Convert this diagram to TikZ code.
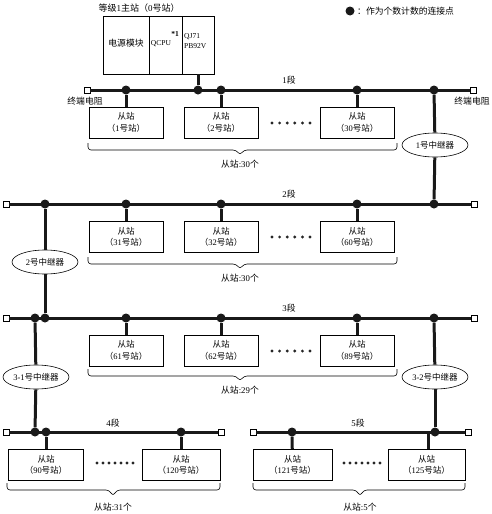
\documentclass[tikz,border=0pt]{standalone}
\usepackage{fontspec}
\setmainfont{Liberation Serif}
\newfontfamily\zhfont{Noto Sans CJK SC}
\newcommand\zh[1]{{\zhfont #1}}
\usetikzlibrary{shapes.geometric}
\begin{document}
\begin{tikzpicture}[x=1pt,y=-1pt,
  bus/.style={line width=3pt, draw=black!90},
  drop/.style={line width=3pt, draw=black!90},
  slave/.style={draw, line width=0.8pt, minimum width=74pt, minimum height=31pt, align=center, inner sep=0pt, font=\fontsize{8.5}{11.5}\selectfont},
  mpart/.style={draw, line width=0.8pt, minimum height=58pt, inner sep=0pt, font=\fontsize{8.5}{10}\selectfont},
  jdot/.style={circle, fill=black!90, inner sep=0pt, minimum size=9pt},
  term/.style={draw, fill=white, line width=0.6pt, minimum size=6pt, inner sep=0pt},
  relay/.style={ellipse, draw, fill=white, line width=0.6pt, minimum width=66pt, minimum height=24pt, inner sep=0pt, font=\fontsize{8.5}{10}\selectfont},
  lbl/.style={inner sep=0pt, font=\fontsize{8.8}{10}\selectfont},
  brc/.style={line width=0.6pt, rounded corners=3pt},
  sdot/.style={fill=black!85}
]
\useasboundingbox (0,0) rectangle (492,514);

% legend
\node[jdot] (legdot) at (350,11) {};
\node[lbl, anchor=west] (legtxt) at (357,11) {\zh{：作为个数计数的连接点}};

% master station
\node[lbl, font=\fontsize{9}{10}\selectfont] (mtitle) at (139,8) {\zh{等级}1\zh{主站（}0\zh{号站）}};
\node[mpart, minimum width=46pt] (m1) at (126,45) {};
\node[mpart, minimum width=33pt] (m2) at (165.5,45) {};
\node[mpart, minimum width=32pt] (m3) at (198,45) {};
\node[lbl, font=\fontsize{8.8}{10}\selectfont] (m1t) at (126,43) {\zh{电源模块}};
\node[lbl, font=\fontsize{7.5}{9}\selectfont] (m2t) at (161,44) {QCPU};
\node[lbl, font=\fontsize{7.5}{9}\selectfont\bfseries] (m2s) at (175,34) {*1};
\node[lbl, anchor=north west, align=left, font=\fontsize{7.5}{10}\selectfont] (m3t) at (184,33) {QJ71\\PB92V};

% ---------- bus 1 ----------
\node[term] (t1l) at (87,90) {};
\node[term] (t1r) at (473,90) {};
\draw[bus] (t1l) -- (t1r);
\node[jdot] (d1a) at (126,90) {};
\node[jdot] (d1m) at (198,90) {};
\node[jdot] (d1b) at (221,90) {};
\node[jdot] (d1c) at (357,90) {};
\node[jdot] (d1e) at (434,90) {};
\draw[drop] (m3) -- (d1m);
\node[lbl] (tr1l) at (85,101) {\zh{终端电阻}};
\node[lbl] (tr1r) at (472,101) {\zh{终端电阻}};
\node[lbl] (seg1) at (289,80) {1\zh{段}};
\node[slave] (s1) at (126,122.5) {\zh{从站}\\\zh{（}1\zh{号站）}};
\node[slave] (s2) at (221,122.5) {\zh{从站}\\\zh{（}2\zh{号站）}};
\node[slave] (s30) at (357,122.5) {\zh{从站}\\\zh{（}30\zh{号站）}};
\draw[drop] (d1a) -- (s1);
\draw[drop] (d1b) -- (s2);
\draw[drop] (d1c) -- (s30);
\foreach \i in {0,...,5} \fill[sdot] (272+7.6*\i,123) circle (1.6);
\draw[brc] (88,143) -- (88,150) -- (236,150) -- (240,155) -- (244,150) -- (397,150) -- (397,143);
\node[lbl] (n1) at (240,164) {\zh{从站}:30\zh{个}};

% relay 1
\node[relay] (r1) at (435,145) {1\zh{号中继器}};

% ---------- bus 2 ----------
\node[term] (t2l) at (6,204) {};
\node[term] (t2r) at (474,204) {};
\draw[bus] (t2l) -- (t2r);
\node[jdot] (d2r) at (45,204) {};
\node[jdot] (d2a) at (126,204) {};
\node[jdot] (d2b) at (221,204) {};
\node[jdot] (d2c) at (357,204) {};
\node[jdot] (d2e) at (434,204) {};
\draw[drop] (d1e) -- (r1);
\draw[drop] (r1) -- (d2e);
\node[lbl] (seg2) at (289,194) {2\zh{段}};
\node[slave] (s31) at (126,237) {\zh{从站}\\\zh{（}31\zh{号站）}};
\node[slave] (s32) at (221,237) {\zh{从站}\\\zh{（}32\zh{号站）}};
\node[slave] (s60) at (357,237) {\zh{从站}\\\zh{（}60\zh{号站）}};
\draw[drop] (d2a) -- (s31);
\draw[drop] (d2b) -- (s32);
\draw[drop] (d2c) -- (s60);
\foreach \i in {0,...,5} \fill[sdot] (272+7.6*\i,237) circle (1.6);
\draw[brc] (88,257) -- (88,264) -- (236,264) -- (240,269) -- (244,264) -- (397,264) -- (397,257);
\node[lbl] (n2) at (240,278) {\zh{从站}:30\zh{个}};

% relay 2
\node[relay] (r2) at (45,262) {2\zh{号中继器}};

% ---------- bus 3 ----------
\node[term] (t3l) at (6,318) {};
\node[term] (t3r) at (474,318) {};
\draw[bus] (t3l) -- (t3r);
\node[jdot] (d3p) at (35,318) {};
\node[jdot] (d3r) at (45,318) {};
\node[jdot] (d3a) at (126,318) {};
\node[jdot] (d3b) at (221,318) {};
\node[jdot] (d3c) at (357,318) {};
\node[jdot] (d3e) at (434,318) {};
\draw[drop] (d2r) -- (r2);
\draw[drop] (r2) -- (d3r);
\node[lbl] (seg3) at (289,308) {3\zh{段}};
\node[slave] (s61) at (126,350.5) {\zh{从站}\\\zh{（}61\zh{号站）}};
\node[slave] (s62) at (221,350.5) {\zh{从站}\\\zh{（}62\zh{号站）}};
\node[slave] (s89) at (357,350.5) {\zh{从站}\\\zh{（}89\zh{号站）}};
\draw[drop] (d3a) -- (s61);
\draw[drop] (d3b) -- (s62);
\draw[drop] (d3c) -- (s89);
\foreach \i in {0,...,5} \fill[sdot] (272+7.6*\i,351) circle (1.6);
\draw[brc] (88,369) -- (88,376) -- (236,376) -- (240,381) -- (244,376) -- (397,376) -- (397,369);
\node[lbl] (n3) at (240,390) {\zh{从站}:29\zh{个}};

% relays 3-1, 3-2
\node[relay] (r31) at (36,377) {3-1\zh{号中继器}};
\node[relay] (r32) at (435,377) {3-2\zh{号中继器}};

% ---------- bus 4 ----------
\node[term] (t4l) at (6,432) {};
\node[term] (t4r) at (221,432) {};
\draw[bus] (t4l) -- (t4r);
\node[jdot] (d4r) at (35,432) {};
\node[jdot] (d4a) at (46,432) {};
\node[jdot] (d4b) at (181,432) {};
\draw[drop] (d3p) -- (r31);
\draw[drop] (r31) -- (d4r);
\node[lbl] (seg4) at (113,423) {4\zh{段}};
\node[slave, minimum width=75pt] (s90) at (46,465) {\zh{从站}\\\zh{（}90\zh{号站）}};
\node[slave, minimum width=78pt] (s120) at (181,465) {\zh{从站}\\\zh{（}120\zh{号站）}};
\draw[drop] (d4a) -- (s90);
\draw[drop] (d4b) -- (s120);
\foreach \i in {0,...,6} \fill[sdot] (97+6*\i,463) circle (1.6);
\draw[brc] (7,483) -- (7,490) -- (109,490) -- (113,496) -- (117,490) -- (220,490) -- (220,483);
\node[lbl] (n4) at (113,507) {\zh{从站}:31\zh{个}};

% ---------- bus 5 ----------
\node[term] (t5l) at (253,432) {};
\node[term] (t5r) at (468,432) {};
\draw[bus] (t5l) -- (t5r);
\node[jdot] (d5a) at (292,432) {};
\coordinate (c125) at (428,432);
\node[slave, minimum width=79pt] (s121) at (292.5,465) {\zh{从站}\\\zh{（}121\zh{号站）}};
\node[slave, minimum width=77pt] (s125) at (426.5,465) {\zh{从站}\\\zh{（}125\zh{号站）}};
\draw[drop] (d5a) -- (s121);
\draw[drop] (c125) -- (c125 |- s125.north);
\node[jdot] (d5e) at (435,432) {};
\draw[drop] (d3e) -- (r32);
\draw[drop] (r32) -- (d5e);
\node[lbl] (seg5) at (358,423) {5\zh{段}};
\foreach \i in {0,...,6} \fill[sdot] (344+6*\i,463) circle (1.6);
\draw[brc] (253,483) -- (253,490) -- (356,490) -- (360,496) -- (364,490) -- (465,490) -- (465,483);
\node[lbl] (n5) at (360,507) {\zh{从站}:5\zh{个}};
\end{tikzpicture}
\end{document}
